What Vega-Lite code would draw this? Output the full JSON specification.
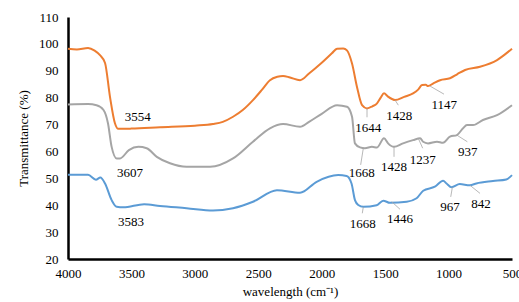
{
  "$schema": "https://vega.github.io/schema/vega-lite/v6.json",
  "width": 444,
  "height": 242,
  "autosize": {"type": "none"},
  "padding": {"left": 68, "top": 17, "right": 7, "bottom": 43},
  "config": {
    "view": {"stroke": null},
    "font": "Liberation Serif",
    "axis": {"grid": false, "ticks": false, "domainColor": "black", "domainWidth": 2.5, "labelFont": "Liberation Serif", "labelFontSize": 13, "labelColor": "black", "titleFont": "Liberation Serif", "titleFontSize": 13, "titleFontWeight": "normal", "titleColor": "black"}
  },
  "encoding": {
    "x": {"field": "w", "type": "quantitative", "scale": {"domain": [500, 4000], "reverse": true, "nice": false},
          "axis": {"values": [4000, 3500, 3000, 2500, 2000, 1500, 1000, 500], "format": "d", "labelPadding": 8, "labelFlush": false, "labelBound": false, "labelOverlap": false, "title": "wavelength (cm⁻¹)", "titlePadding": 5}},
    "y": {"field": "v", "type": "quantitative", "scale": {"domain": [20, 110], "nice": false},
          "axis": {"values": [20, 30, 40, 50, 60, 70, 80, 90, 100, 110], "tickCount": 10, "labelOverlap": false, "labelPadding": 10, "title": "Transmittance (%)", "titlePadding": 8}}
  },
  "datasets": {
    "spectra": [
      {"series": "A", "w": 4000, "v": 98.2}, {"series": "A", "w": 3930, "v": 97.9}, {"series": "A", "w": 3842, "v": 98.5}, {"series": "A", "w": 3790, "v": 97.5}, {"series": "A", "w": 3748, "v": 95.8}, {"series": "A", "w": 3708, "v": 92.9}, {"series": "A", "w": 3669, "v": 80.3}, {"series": "A", "w": 3630, "v": 70.5}, {"series": "A", "w": 3603, "v": 68.4}, {"series": "A", "w": 3500, "v": 68.5}, {"series": "A", "w": 3275, "v": 69.0}, {"series": "A", "w": 3000, "v": 69.6}, {"series": "A", "w": 2857, "v": 70.2}, {"series": "A", "w": 2780, "v": 71.0}, {"series": "A", "w": 2699, "v": 72.9}, {"series": "A", "w": 2620, "v": 75.5}, {"series": "A", "w": 2542, "v": 79.1}, {"series": "A", "w": 2470, "v": 83.0}, {"series": "A", "w": 2408, "v": 86.5}, {"series": "A", "w": 2350, "v": 87.8}, {"series": "A", "w": 2305, "v": 88.1}, {"series": "A", "w": 2250, "v": 87.5}, {"series": "A", "w": 2171, "v": 86.5}, {"series": "A", "w": 2100, "v": 89.0}, {"series": "A", "w": 2000, "v": 93.0}, {"series": "A", "w": 1920, "v": 96.5}, {"series": "A", "w": 1879, "v": 98.2}, {"series": "A", "w": 1830, "v": 98.3}, {"series": "A", "w": 1801, "v": 97.6}, {"series": "A", "w": 1761, "v": 92.7}, {"series": "A", "w": 1722, "v": 84.0}, {"series": "A", "w": 1682, "v": 77.2}, {"series": "A", "w": 1643, "v": 76.0}, {"series": "A", "w": 1600, "v": 76.8}, {"series": "A", "w": 1564, "v": 77.9}, {"series": "A", "w": 1535, "v": 80.0}, {"series": "A", "w": 1509, "v": 81.6}, {"series": "A", "w": 1480, "v": 80.5}, {"series": "A", "w": 1446, "v": 79.5}, {"series": "A", "w": 1422, "v": 79.1}, {"series": "A", "w": 1350, "v": 80.3}, {"series": "A", "w": 1280, "v": 81.6}, {"series": "A", "w": 1240, "v": 83.0}, {"series": "A", "w": 1209, "v": 84.7}, {"series": "A", "w": 1180, "v": 84.8}, {"series": "A", "w": 1162, "v": 84.3}, {"series": "A", "w": 1120, "v": 85.3}, {"series": "A", "w": 1067, "v": 86.5}, {"series": "A", "w": 989, "v": 87.2}, {"series": "A", "w": 930, "v": 88.8}, {"series": "A", "w": 870, "v": 90.3}, {"series": "A", "w": 752, "v": 91.5}, {"series": "A", "w": 618, "v": 94.0}, {"series": "A", "w": 500, "v": 98.2},
      {"series": "B", "w": 4000, "v": 77.5}, {"series": "B", "w": 3842, "v": 77.6}, {"series": "B", "w": 3775, "v": 77.2}, {"series": "B", "w": 3720, "v": 75.4}, {"series": "B", "w": 3685, "v": 70.5}, {"series": "B", "w": 3656, "v": 61.7}, {"series": "B", "w": 3616, "v": 57.4}, {"series": "B", "w": 3590, "v": 57.4}, {"series": "B", "w": 3520, "v": 60.5}, {"series": "B", "w": 3445, "v": 61.7}, {"series": "B", "w": 3380, "v": 61.2}, {"series": "B", "w": 3300, "v": 58.0}, {"series": "B", "w": 3196, "v": 55.6}, {"series": "B", "w": 3065, "v": 54.3}, {"series": "B", "w": 2880, "v": 54.3}, {"series": "B", "w": 2699, "v": 57.4}, {"series": "B", "w": 2542, "v": 63.6}, {"series": "B", "w": 2408, "v": 68.6}, {"series": "B", "w": 2305, "v": 70.2}, {"series": "B", "w": 2171, "v": 69.2}, {"series": "B", "w": 2100, "v": 71.0}, {"series": "B", "w": 2000, "v": 74.0}, {"series": "B", "w": 1879, "v": 77.2}, {"series": "B", "w": 1801, "v": 76.6}, {"series": "B", "w": 1761, "v": 72.9}, {"series": "B", "w": 1738, "v": 63.0}, {"series": "B", "w": 1698, "v": 61.5}, {"series": "B", "w": 1659, "v": 61.2}, {"series": "B", "w": 1604, "v": 61.7}, {"series": "B", "w": 1564, "v": 61.5}, {"series": "B", "w": 1509, "v": 64.9}, {"series": "B", "w": 1477, "v": 63.0}, {"series": "B", "w": 1430, "v": 61.7}, {"series": "B", "w": 1359, "v": 63.0}, {"series": "B", "w": 1280, "v": 64.2}, {"series": "B", "w": 1224, "v": 64.9}, {"series": "B", "w": 1201, "v": 63.6}, {"series": "B", "w": 1162, "v": 63.0}, {"series": "B", "w": 1091, "v": 63.6}, {"series": "B", "w": 1044, "v": 63.2}, {"series": "B", "w": 989, "v": 65.5}, {"series": "B", "w": 934, "v": 66.1}, {"series": "B", "w": 886, "v": 68.6}, {"series": "B", "w": 855, "v": 69.8}, {"series": "B", "w": 807, "v": 69.8}, {"series": "B", "w": 729, "v": 71.7}, {"series": "B", "w": 618, "v": 73.5}, {"series": "B", "w": 500, "v": 77.2},
      {"series": "C", "w": 4000, "v": 51.3}, {"series": "C", "w": 3842, "v": 51.3}, {"series": "C", "w": 3780, "v": 49.5}, {"series": "C", "w": 3745, "v": 50.3}, {"series": "C", "w": 3708, "v": 48.1}, {"series": "C", "w": 3656, "v": 41.9}, {"series": "C", "w": 3616, "v": 39.4}, {"series": "C", "w": 3564, "v": 39.2}, {"series": "C", "w": 3400, "v": 40.4}, {"series": "C", "w": 3275, "v": 39.7}, {"series": "C", "w": 3065, "v": 38.9}, {"series": "C", "w": 2857, "v": 38.0}, {"series": "C", "w": 2699, "v": 38.9}, {"series": "C", "w": 2542, "v": 41.3}, {"series": "C", "w": 2353, "v": 45.6}, {"series": "C", "w": 2171, "v": 44.6}, {"series": "C", "w": 2040, "v": 48.7}, {"series": "C", "w": 1870, "v": 51.2}, {"series": "C", "w": 1804, "v": 50.9}, {"series": "C", "w": 1765, "v": 48.1}, {"series": "C", "w": 1738, "v": 41.9}, {"series": "C", "w": 1712, "v": 40.1}, {"series": "C", "w": 1672, "v": 39.4}, {"series": "C", "w": 1567, "v": 40.0}, {"series": "C", "w": 1515, "v": 41.7}, {"series": "C", "w": 1462, "v": 40.9}, {"series": "C", "w": 1330, "v": 41.3}, {"series": "C", "w": 1252, "v": 42.6}, {"series": "C", "w": 1200, "v": 45.4}, {"series": "C", "w": 1108, "v": 46.9}, {"series": "C", "w": 1043, "v": 49.1}, {"series": "C", "w": 1016, "v": 48.1}, {"series": "C", "w": 977, "v": 46.7}, {"series": "C", "w": 912, "v": 47.9}, {"series": "C", "w": 833, "v": 47.4}, {"series": "C", "w": 781, "v": 48.1}, {"series": "C", "w": 650, "v": 49.0}, {"series": "C", "w": 545, "v": 49.6}, {"series": "C", "w": 500, "v": 51.2}
    ],
    "labels": [
      {"text": "3554", "w": 3451, "v": 72.8},
      {"text": "3607", "w": 3511, "v": 51.9},
      {"text": "3583", "w": 3503, "v": 33.9},
      {"text": "1644", "w": 1633, "v": 68.8},
      {"text": "1428", "w": 1388, "v": 73.2},
      {"text": "1147", "w": 1034, "v": 77.2},
      {"text": "1668", "w": 1685, "v": 51.9},
      {"text": "1428", "w": 1430, "v": 54.1},
      {"text": "1237", "w": 1204, "v": 56.8},
      {"text": "937", "w": 849, "v": 59.9},
      {"text": "1668", "w": 1677, "v": 33.0},
      {"text": "1446", "w": 1383, "v": 34.8},
      {"text": "967", "w": 989, "v": 39.2},
      {"text": "842", "w": 744, "v": 40.4}
    ],
    "leaders": [
      {"w": 1643, "v": 76.0, "w2": 1643, "v2": 72.7},
      {"w": 1422, "v": 79.1, "w2": 1396, "v2": 77.2},
      {"w": 1146, "v": 84.3, "w2": 1036, "v2": 81.3},
      {"w": 1672, "v": 61.2, "w2": 1693, "v2": 55.0},
      {"w": 1430, "v": 61.7, "w2": 1430, "v2": 58.0},
      {"w": 1239, "v": 64.9, "w2": 1204, "v2": 61.2},
      {"w": 936, "v": 66.1, "w2": 852, "v2": 63.6},
      {"w": 1672, "v": 39.4, "w2": 1680, "v2": 37.0},
      {"w": 1448, "v": 41.3, "w2": 1383, "v2": 38.5},
      {"w": 970, "v": 46.7, "w2": 983, "v2": 43.1},
      {"w": 831, "v": 47.4, "w2": 752, "v2": 44.4}
    ]
  },
  "layer": [
    {
      "data": {"name": "spectra"},
      "mark": {"type": "line", "interpolate": "monotone", "strokeWidth": 2},
      "encoding": {
        "color": {"field": "series", "type": "nominal", "scale": {"domain": ["A", "B", "C"], "range": ["#ED7D31", "#A5A5A5", "#5B9BD5"]}, "legend": null},
        "order": {"field": "w", "type": "quantitative", "sort": "descending"}
      }
    },
    {
      "data": {"name": "leaders"},
      "mark": {"type": "rule", "color": "#A6A6A6", "strokeWidth": 0.8},
      "encoding": {
        "x2": {"field": "w2"},
        "y2": {"field": "v2"}
      }
    },
    {
      "data": {"name": "labels"},
      "mark": {"type": "text", "font": "Liberation Serif", "fontSize": 13, "color": "black", "align": "center", "baseline": "middle"},
      "encoding": {
        "text": {"field": "text"}
      }
    }
  ]
}
